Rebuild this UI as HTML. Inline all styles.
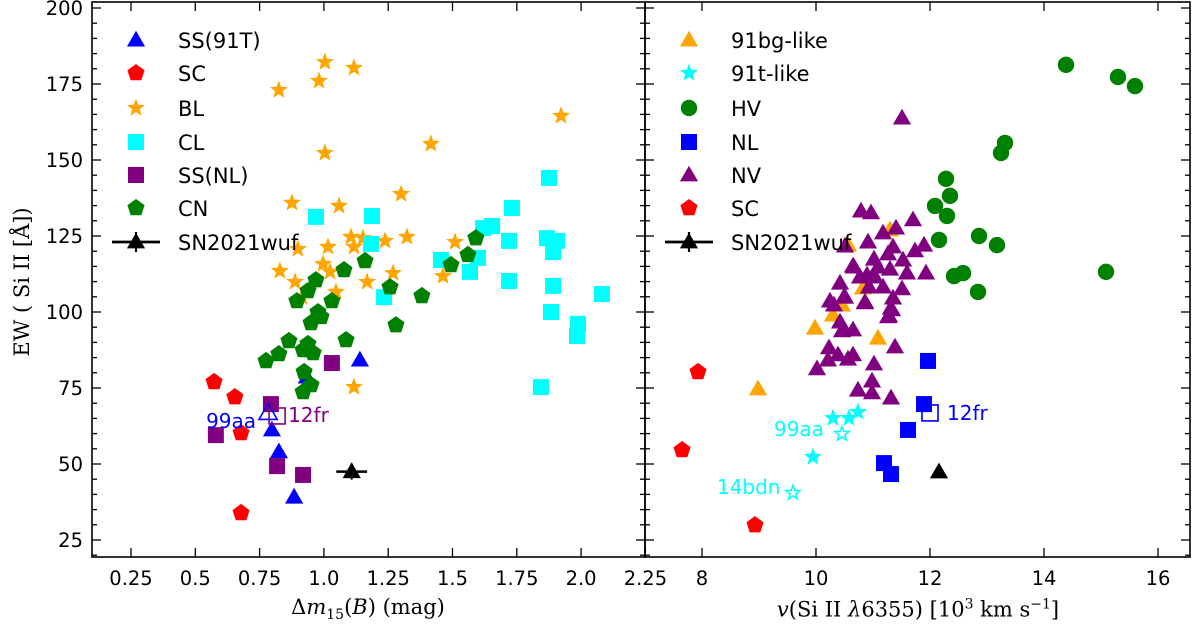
<!DOCTYPE html>
<html><head><meta charset="utf-8">
<style>
body{margin:0;background:#fff;}
svg{display:block;font-family:"DejaVu Sans","Liberation Sans",sans-serif;}
</style></head>
<body>
<svg id="chart" width="1200" height="629" viewBox="0 0 1200 629" xmlns="http://www.w3.org/2000/svg"></svg>
<script>
// ---- data: left panel (dm15, EW) ----
const ss91tX=[0.798,0.825,0.884,1.140,0.934];
const ss91tY=[61.2,54.0,39.1,84.2,78.6];
const scLX=[0.573,0.654,0.678,0.678];
const scLY=[77.0,72.0,60.2,33.9];
const blX=[1.004,1.117,0.981,0.825,1.922,1.416,1.004,1.300,0.876,1.059,1.323,1.105,1.152,1.238,1.016,1.117,0.899,1.510,0.997,0.829,1.024,1.269,1.463,0.888,1.168,1.047,0.915,1.117];
const blY=[182.2,180.3,176.0,173.0,164.5,155.3,152.3,138.8,135.9,134.9,124.7,124.7,124.3,123.4,121.4,121.4,120.7,123.0,115.8,113.5,113.2,112.8,111.8,109.9,109.9,106.6,104.9,75.3];
const clX=[1.875,1.731,0.969,1.187,1.654,1.619,1.720,1.867,1.906,1.183,1.891,1.455,1.599,1.568,1.720,1.891,2.081,1.234,1.883,1.988,1.984,1.844];
const clY=[144.1,134.2,131.3,131.6,128.3,127.6,123.4,124.3,123.4,122.4,119.7,117.1,117.8,113.2,110.2,108.6,105.9,104.9,100.0,96.1,92.1,75.3];
const ssnlX=[0.794,0.580,0.818,0.919,1.031];
const ssnlY=[69.7,59.5,49.3,46.4,83.2];
const cnX=[1.591,1.560,1.494,1.160,1.078,1.257,0.969,0.938,0.895,1.031,0.977,0.989,0.950,1.381,1.280,0.864,1.086,0.938,0.919,0.958,0.825,0.775,0.923,0.950,0.919];
const cnY=[124.3,118.8,115.5,116.8,113.8,108.2,110.5,106.9,103.6,103.6,100.0,98.4,96.4,105.3,95.7,90.5,90.8,89.5,87.5,86.5,86.2,83.9,80.3,76.0,73.7];
const wufL=[1.108,47.5,0.06];
const aa99L=[0.783,66.8];
const fr12L=[0.818,65.8];
// ---- data: right panel (velocity, EW) ----
const bgX=[9.982,11.088,10.298,10.825,11.298,10.561,8.982,10.456];
const bgY=[94.7,91.4,99.0,107.9,127.0,122.0,74.7,102.3];
const t91X=[10.298,10.579,10.737,9.947];
const t91Y=[65.1,65.1,67.1,52.3];
const hvX=[14.386,15.298,15.596,13.316,13.246,12.281,12.351,12.088,12.298,12.158,12.860,13.175,15.088,12.579,12.421,12.842];
const hvY=[181.3,177.3,174.3,155.6,152.3,143.8,138.2,134.9,131.6,123.7,125.0,122.0,113.2,112.8,111.8,106.6];
const nlX=[11.965,11.895,11.614,11.193,11.316];
const nlY=[83.9,69.7,61.2,50.3,46.7];
const nvX=[11.509,10.789,10.965,11.702,11.404,11.175,10.912,10.509,11.351,11.895,11.737,11.263,11.018,11.526,10.667,11.088,11.298,11.596,11.930,10.772,10.895,11.035,10.421,11.175,11.509,10.930,10.491,10.246,10.860,11.351,10.316,11.316,11.281,10.421,10.649,10.456,11.386,10.228,10.386,10.649,10.561,10.211,10.018,11.018,10.982,10.737,10.982,11.316,10.649,10.509,10.860,11.333,11.263,10.474];
const nvY=[163.8,133.2,132.6,130.3,127.6,126.0,123.0,121.7,121.4,122.0,120.1,119.1,117.4,117.1,114.8,114.8,114.1,112.8,112.8,111.5,112.2,111.5,109.5,108.2,107.6,108.2,104.9,103.6,103.3,104.6,102.3,101.3,98.7,96.7,94.1,93.8,88.5,88.2,85.9,85.9,84.5,84.2,81.3,82.9,77.3,74.3,73.4,71.7,115.1,104.9,103.0,100.7,98.4,94.1];
const scRX=[7.93,7.65,8.93];
const scRY=[80.3,54.6,29.9];
const wufR=[12.158,47.4];
const aa99R=[10.456,59.9];
const bdn14R=[9.596,40.5];
const fr12R=[12.0,66.8];
// ticks
const yTicks=[25,50,75,100,125,150,175,200];
const xTicksL=[0.25,0.5,0.75,1.0,1.25,1.5,1.75,2.0,2.25];
const xTickLabelsL=["0.25","0.5","0.75","1.0","1.25","1.5","1.75","2.0","2.25"];
const xTicksR=[8,10,12,14,16];
const xTickLabelsR=["8","10","12","14","16"];

const NS="http://www.w3.org/2000/svg";
const svg=document.getElementById('chart');
const TOP=2,BOT=557,LX0=92,LX1=645,RX0=645,RX1=1190;
const yS=v=>8+(200-v)*3.04;
const xL=v=>131+(v-0.25)*257.2;
const xR=v=>702+(v-8)*57;
function el(tag,attrs,parent){const e=document.createElementNS(NS,tag);for(const k in attrs)e.setAttribute(k,attrs[k]);(parent||svg).appendChild(e);return e;}
function txt(s,x,y,attrs,parent){const t=el('text',Object.assign({x:x,y:y},attrs),parent);t.textContent=s;return t;}
function poly(cx,cy,n,r,rot){let p=[];for(let i=0;i<n;i++){const a=rot+i*2*Math.PI/n;p.push((cx+r*Math.cos(a)).toFixed(1)+','+(cy+r*Math.sin(a)).toFixed(1));}return p.join(' ');}
function star(cx,cy,r){let p=[];for(let i=0;i<10;i++){const a=-Math.PI/2+i*Math.PI/5;const rr=i%2?r*0.42:r;p.push((cx+rr*Math.cos(a)).toFixed(1)+','+(cy+rr*Math.sin(a)).toFixed(1));}return p.join(' ');}
function marker(g,type,x,y,color,open){
  const fill=open?'none':color, stroke=open?color:'none', sw=open?1.6:0;
  let m;
  if(type==='tri') m=el('polygon',{points:poly(x,y+1.2,3,10.5,-Math.PI/2),fill:fill,stroke:stroke,'stroke-width':sw},g);
  else if(type==='pent') m=el('polygon',{points:poly(x,y,5,9,-Math.PI/2),fill:fill,stroke:stroke,'stroke-width':sw},g);
  else if(type==='sq') m=el('rect',{x:x-8,y:y-8,width:16,height:16,fill:fill,stroke:stroke,'stroke-width':sw},g);
  else if(type==='circ') m=el('circle',{cx:x,cy:y,r:8.2,fill:fill},g);
  else if(type==='star') m=el('polygon',{points:star(x,y,open?7.5:9.5),fill:fill,stroke:stroke,'stroke-width':sw},g);
  return m;
}
function series(name,xs,ys,xf,type,color){
  const g=el('g',{});
  
  
  for(let i=0;i<xs.length;i++){const m=marker(g,type,xf(xs[i]),yS(ys[i]),color,false);
    
    }
}
function frame(x0,x1,xt,xl,xf,name,leftLabels){
  const g=el('g',{});
  
  
  el('rect',{x:x0,y:TOP,width:x1-x0,height:BOT-TOP,fill:'none',stroke:'#000','stroke-width':1.6},g);
  for(let v=20;v<=200;v+=5){const y=yS(v);if(y<TOP||y>BOT)continue;const L=(v%25===0)?9:5;
    el('line',{x1:x0,y1:y,x2:x0+L,y2:y,stroke:'#000','stroke-width':1.3},g);
    el('line',{x1:x1,y1:y,x2:x1-L,y2:y,stroke:'#000','stroke-width':1.3},g);}
  xt.forEach((v,i)=>{const x=xf(v);
    el('line',{x1:x,y1:BOT,x2:x,y2:BOT-9,stroke:'#000','stroke-width':1.3},g);
    el('line',{x1:x,y1:TOP,x2:x,y2:TOP+9,stroke:'#000','stroke-width':1.3},g);
    txt(xl[i],x,585,{'font-size':19.5,'text-anchor':'middle',fill:'#000'},g);});
  if(leftLabels){yTicks.forEach(v=>{txt(String(v),83,yS(v)+7,{'font-size':19.5,'text-anchor':'end',fill:'#000'},g);});}
}
frame(LX0,LX1,xTicksL,xTickLabelsL,xL,'left-panel',true);
frame(RX0,RX1,xTicksR,xTickLabelsR,xR,'right-panel',false);

// left series
series('ss91t-series',ss91tX,ss91tY,xL,'tri','#0000ff');
series('sc-left-series',scLX,scLY,xL,'pent','#ff0000');
series('bl-series',blX,blY,xL,'star','#ffa500');
series('cl-series',clX,clY,xL,'sq','#00ffff');
series('ssnl-series',ssnlX,ssnlY,xL,'sq','#800080');
series('cn-series',cnX,cnY,xL,'pent','#008000');
let m=marker(svg,'tri',xL(aa99L[0]),yS(aa99L[1]),'#0000ff',true);


m=marker(svg,'sq',xL(fr12L[0]),yS(fr12L[1]),'#800080',true);


let t=txt('99aa',xL(aa99L[0])-62,yS(aa99L[1])+15,{'font-size':20,fill:'#0000ff'});


t=txt('12fr',xL(fr12L[0])+11,yS(fr12L[1])+6,{'font-size':20,fill:'#800080'});


let gw=el('g',{});


el('line',{x1:xL(wufL[0]-wufL[2]),y1:yS(wufL[1]),x2:xL(wufL[0]+wufL[2]),y2:yS(wufL[1]),stroke:'#000','stroke-width':2.5},gw);
el('line',{x1:xL(wufL[0]),y1:yS(wufL[1])-8,x2:xL(wufL[0]),y2:yS(wufL[1])+8,stroke:'#000','stroke-width':2},gw);
marker(gw,'tri',xL(wufL[0]),yS(wufL[1]),'#000',false);

// right series
series('91bg-like-series',bgX,bgY,xR,'tri','#ffa500');
series('91t-like-series',t91X,t91Y,xR,'star','#00ffff');
series('hv-series',hvX,hvY,xR,'circ','#008000');
series('nl-series',nlX,nlY,xR,'sq','#0000ff');
series('nv-series',nvX,nvY,xR,'tri','#800080');
series('sc-right-series',scRX,scRY,xR,'pent','#ff0000');
m=marker(svg,'tri',xR(wufR[0]),yS(wufR[1]),'#000',false);


m=marker(svg,'star',xR(aa99R[0]),yS(aa99R[1]),'#00ffff',true);


m=marker(svg,'star',xR(bdn14R[0]),yS(bdn14R[1]),'#00ffff',true);


m=marker(svg,'sq',xR(fr12R[0]),yS(fr12R[1]),'#0000ff',true);


t=txt('99aa',xR(aa99R[0])-68,yS(aa99R[1])+2,{'font-size':20,fill:'#00ffff'});


t=txt('14bdn',xR(bdn14R[0])-76,yS(bdn14R[1])+1,{'font-size':20,fill:'#00ffff'});


t=txt('12fr',xR(fr12R[0])+17,yS(fr12R[1])+7,{'font-size':20,fill:'#0000ff'});



// legends
const rows=[40,73,108,142,175,208,242];
function legend(x0,items,name){
  const g=el('g',{});
  
  
  items.forEach((it,i)=>{const y=rows[i];const mx=x0+44;
    if(it[1]==='wuf'){el('line',{x1:mx-24,y1:y,x2:mx+24,y2:y,stroke:'#000','stroke-width':2.8},g);
      el('line',{x1:mx,y1:y-10,x2:mx,y2:y+10,stroke:'#000','stroke-width':2.2},g);
      marker(g,'tri',mx,y,'#000',false);}
    else marker(g,it[1],mx,y,it[2],false);
    const tt=txt(it[0],x0+86,y+8,{'font-size':21,fill:'#000'},g);
    
    });
}
legend(92,[['SS(91T)','tri','#0000ff'],['SC','pent','#ff0000'],['BL','star','#ffa500'],['CL','sq','#00ffff'],['SS(NL)','sq','#800080'],['CN','pent','#008000'],['SN2021wuf','wuf']],'left-legend');
legend(645,[['91bg-like','tri','#ffa500'],['91t-like','star','#00ffff'],['HV','circ','#008000'],['NL','sq','#0000ff'],['NV','tri','#800080'],['SC','pent','#ff0000'],['SN2021wuf','wuf']],'right-legend');
</script>
<div style="position:absolute;left:0;top:0;width:1200px;height:629px;pointer-events:none;">
<div style="position:absolute;left:22px;top:282px;transform:translate(-50%,-50%) rotate(-90deg);white-space:nowrap;font-family:'DejaVu Serif','Liberation Serif',serif;font-size:21px;">EW ( Si II [Å])</div>
<div style="position:absolute;left:368px;top:609px;transform:translate(-50%,-50%);white-space:nowrap;font-family:'DejaVu Serif','Liberation Serif',serif;font-size:21px;">Δ<i>m</i><sub style="font-size:14px">15</sub>(<i>B</i>) (mag)</div>
<div style="position:absolute;left:918px;top:609px;transform:translate(-50%,-50%);white-space:nowrap;font-family:'DejaVu Serif','Liberation Serif',serif;font-size:21px;"><i>v</i>(Si II <i>λ</i>6355) [10<sup style="font-size:14px">3</sup> km s<sup style="font-size:14px">−1</sup>]</div>
</div>
</body></html>
